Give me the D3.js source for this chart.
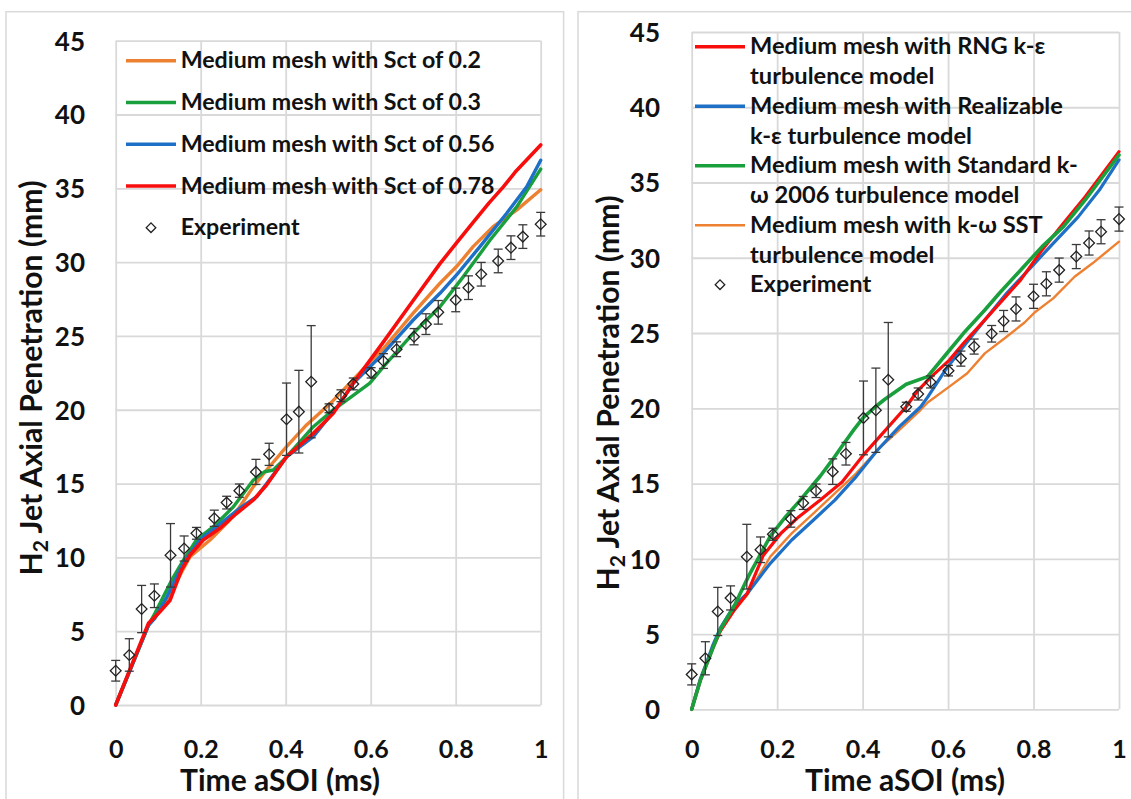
<!DOCTYPE html>
<html><head><meta charset="utf-8">
<script src="https://cdn.jsdelivr.net/npm/d3@7"></script>
<style>
body{margin:0;background:#fff}
svg{display:block}
text{font-family:Lato,'Open Sans',sans-serif;font-weight:bold;fill:#111}
</style>
</head><body>
<svg id="c" width="1131" height="799"></svg>
<script>
// ---------------- DATA ----------------
const xTicks = [0, 0.2, 0.4, 0.6, 0.8, 1];
const yTicks = [0, 5, 10, 15, 20, 25, 30, 35, 40, 45];

// Experiment (same on both panels)
const expT = [0, 0.032, 0.061, 0.091, 0.129, 0.161, 0.19, 0.232, 0.261, 0.291, 0.33, 0.361, 0.402, 0.431, 0.46, 0.502, 0.53, 0.559, 0.601, 0.63, 0.661, 0.702, 0.73, 0.759, 0.8, 0.83, 0.86, 0.9, 0.93, 0.958, 1.0];
const expV = [2.32, 3.39, 6.5, 7.4, 10.14, 10.6, 11.63, 12.65, 13.71, 14.52, 15.79, 16.98, 19.36, 19.87, 21.9, 20.1, 20.95, 21.75, 22.5, 23.3, 24.1, 24.95, 25.8, 26.6, 27.44, 28.27, 29.18, 30.08, 30.98, 31.73, 32.57];
const expE = [0.7, 1.1, 1.6, 0.8, 2.15, 0.85, 0.4, 0.55, 0.43, 0.45, 0.85, 0.75, 2.45, 2.8, 3.8, 0.3, 0.4, 0.4, 0.35, 0.5, 0.5, 0.55, 0.7, 0.8, 0.8, 0.8, 0.8, 0.8, 0.8, 0.8, 0.8];

// Left panel: Schmidt number series
const sct02T = [0, 0.04, 0.077, 0.1, 0.13, 0.155, 0.175, 0.222, 0.265, 0.292, 0.324, 0.355, 0.402, 0.449, 0.504, 0.551, 0.6, 0.63, 0.7, 0.763, 0.802, 0.841, 0.888, 0.944, 1.0];
const sct02V = [0, 2.8, 5.4, 6.2, 7.6, 9.0, 10.05, 11.18, 12.42, 13.43, 14.79, 15.92, 17.5, 18.97, 20.4, 21.8, 23.3, 24.15, 26.54, 28.57, 29.7, 31.05, 32.4, 33.54, 34.9];
const sct03T = [0, 0.04, 0.077, 0.092, 0.132, 0.159, 0.19, 0.23, 0.277, 0.324, 0.35, 0.371, 0.402, 0.465, 0.512, 0.551, 0.598, 0.63, 0.7, 0.763, 0.818, 0.881, 0.944, 1.0];
const sct03V = [0, 2.8, 5.4, 6.2, 8.47, 9.8, 11.18, 12.08, 13.43, 15.24, 15.8, 15.92, 16.8, 18.85, 20.0, 20.8, 21.8, 22.92, 25.18, 26.98, 29.02, 31.5, 33.76, 36.3];
const sct056T = [0, 0.04, 0.077, 0.092, 0.12, 0.159, 0.198, 0.238, 0.292, 0.332, 0.402, 0.465, 0.528, 0.559, 0.63, 0.7, 0.763, 0.802, 0.857, 0.92, 0.967, 1.0];
const sct056V = [0, 2.8, 5.4, 5.87, 7.3, 9.6, 11.18, 12.08, 13.33, 14.11, 16.8, 18.18, 20.44, 21.8, 23.83, 26.08, 27.89, 29.13, 31.05, 33.31, 35.1, 36.9];
const sct078T = [0, 0.077, 0.104, 0.128, 0.155, 0.175, 0.206, 0.245, 0.285, 0.324, 0.355, 0.402, 0.465, 0.512, 0.559, 0.63, 0.7, 0.763, 0.802, 0.841, 0.878, 0.912, 0.94, 1.0];
const sct078V = [0, 5.53, 6.32, 7.1, 9.15, 10.16, 11.18, 11.97, 12.99, 13.89, 14.9, 16.82, 18.4, 19.76, 21.8, 24.6, 27.4, 29.9, 31.3, 32.7, 34.0, 35.1, 36.1, 37.94];

// Right panel: turbulence model series
const rngT = [0, 0.02, 0.035, 0.05, 0.067, 0.1, 0.13, 0.167, 0.209, 0.251, 0.301, 0.352, 0.402, 0.452, 0.502, 0.527, 0.561, 0.603, 0.636, 0.686, 0.728, 0.77, 0.82, 0.87, 0.921, 1.0];
const rngV = [0, 1.9, 3.0, 4.1, 5.2, 6.6, 7.7, 10.2, 11.7, 12.8, 13.9, 15.1, 16.9, 18.5, 20.1, 21.1, 22.1, 23.2, 24.32, 25.87, 27.2, 28.53, 30.52, 32.3, 34.06, 37.05];
const realT = [0, 0.02, 0.035, 0.05, 0.067, 0.1, 0.13, 0.184, 0.234, 0.285, 0.335, 0.385, 0.435, 0.486, 0.536, 0.553, 0.594, 0.636, 0.686, 0.737, 0.795, 0.846, 0.904, 0.954, 1.0];
const realV = [0, 2.0, 3.1, 4.3, 5.4, 6.9, 7.7, 9.7, 11.25, 12.58, 13.9, 15.46, 17.23, 18.78, 20.1, 20.77, 22.55, 24.1, 25.87, 27.64, 29.4, 30.96, 32.7, 34.5, 36.5];
const std06T = [0, 0.02, 0.035, 0.05, 0.067, 0.1, 0.134, 0.184, 0.22, 0.251, 0.301, 0.33, 0.352, 0.38, 0.402, 0.43, 0.452, 0.502, 0.552, 0.594, 0.636, 0.686, 0.72, 0.77, 0.82, 0.87, 0.921, 1.0];
const std06V = [0, 1.9, 3.0, 4.1, 5.3, 6.9, 8.9, 11.5, 12.8, 13.8, 15.5, 16.6, 17.5, 18.6, 19.4, 20.1, 20.6, 21.6, 22.1, 23.54, 24.98, 26.53, 27.64, 29.19, 30.74, 32.07, 33.84, 36.83];
const sstT = [0, 0.02, 0.035, 0.05, 0.067, 0.1, 0.13, 0.184, 0.234, 0.285, 0.335, 0.385, 0.435, 0.486, 0.536, 0.553, 0.603, 0.645, 0.686, 0.737, 0.779, 0.804, 0.846, 0.896, 0.938, 1.0];
const sstV = [0, 2.0, 3.1, 4.2, 5.2, 6.6, 7.6, 10.14, 11.69, 13.02, 14.35, 15.68, 17.23, 18.56, 19.9, 20.4, 21.44, 22.33, 23.65, 24.75, 25.7, 26.4, 27.3, 28.74, 29.63, 31.07];

const leftLabels = ["Medium mesh with Sct of 0.2", "Medium mesh with Sct of 0.3", "Medium mesh with Sct of 0.56", "Medium mesh with Sct of 0.78"];
const rightLabels = [
  ["Medium mesh with RNG k-\u03b5", "turbulence model"],
  ["Medium mesh with Realizable", "k-\u03b5 turbulence model"],
  ["Medium mesh with Standard k-", "\u03c9 2006 turbulence model"],
  ["Medium mesh with k-\u03c9 SST", "turbulence model"]
];
const expLabel = "Experiment";
const xTitle = "Time aSOI (ms)";

// ---------------- DRAW ----------------
const svg = d3.select("#c");
const GRID = "#d9d9d9";
const C = {orange: "#ee8131", green: "#1a9f3d", blue: "#1e6fc6", red: "#f80d0d"};
const zip = (a, b) => a.map((t, i) => [t, b[i]]);

function fit(sel, target) {
  const w = sel.node().getComputedTextLength();
  const fs = parseFloat(sel.attr("font-size"));
  sel.attr("font-size", fs * target / w);
  return fs * target / w;
}

function panel(cfg) {
  const x = d3.scaleLinear().domain([0, 1]).range([cfg.x0, cfg.x1]);
  const y = d3.scaleLinear().domain([0, 45]).range([cfg.y0, cfg.y1]);
  const g = svg.append("g");

  g.append("rect").attr("x", cfg.fx).attr("y", 11.7).attr("width", cfg.fw).attr("height", 820)
    .attr("fill", "none").attr("stroke", GRID).attr("stroke-width", 1.5);

  const ya = g.append("g").attr("transform", `translate(${cfg.x0},0)`)
    .call(d3.axisLeft(y).tickValues(yTicks).tickSize(-(cfg.x1 - cfg.x0)).tickPadding(cfg.x0 - cfg.tickRight).tickFormat(d3.format("d")));
  ya.select(".domain").remove();
  ya.selectAll("line").attr("stroke", GRID).attr("stroke-width", 1.8);
  ya.selectAll("text").attr("font-size", 26).attr("dy", "0.36em").attr("fill", "#111")
    .style("font-family", "Lato, sans-serif").style("font-weight", "bold");

  const xa = g.append("g").attr("transform", `translate(0,${cfg.y0})`)
    .call(d3.axisBottom(x).tickValues(xTicks).tickSize(-(cfg.y0 - cfg.y1)).tickFormat(d => String(+d.toFixed(1))));
  xa.select(".domain").remove();
  xa.selectAll("line").attr("stroke", GRID).attr("stroke-width", 1.8);
  xa.selectAll("text").attr("font-size", 25).attr("y", 758 - cfg.y0).attr("dy", 0).attr("fill", "#111")
    .style("font-family", "Lato, sans-serif").style("font-weight", "bold");

  // axis titles
  const xt = g.append("text").attr("x", cfg.xTitleCX).attr("y", 791).attr("text-anchor", "middle")
    .attr("font-size", 26).text(xTitle);
  fit(xt, 200);
  const yt = g.append("text").attr("transform", `translate(${cfg.yTitleX},${cfg.yTitleCY}) rotate(-90)`)
    .attr("text-anchor", "middle").attr("font-size", 26);
  yt.append("tspan").text("H");
  yt.append("tspan").attr("font-size", "0.7em").attr("dy", "0.3em").text("2");
  yt.append("tspan").attr("dy", "-0.21em").text(" Jet Axial Penetration (mm)");
  fit(yt, 395);

  // series
  const line = d3.line().x(d => x(d[0])).y(d => y(d[1]));
  cfg.series.forEach(s => {
    g.append("path").datum(zip(s.t, s.v)).attr("d", line).attr("fill", "none")
      .attr("stroke", s.color).attr("stroke-width", s.w).attr("stroke-linejoin", "round").attr("stroke-linecap", "round");
  });

  // experiment with error bars
  const exp = zip(expT, expV).map((d, i) => ({t: d[0], v: d[1], e: expE[i]}));
  const eb = g.append("g").attr("stroke", "#3a3a3a").attr("stroke-width", 1.3);
  exp.forEach(d => {
    const cx = x(d.t);
    eb.append("line").attr("x1", cx).attr("x2", cx).attr("y1", y(d.v - d.e)).attr("y2", y(d.v + d.e));
    [d.v - d.e, d.v + d.e].forEach(vv => eb.append("line").attr("x1", cx - 4.5).attr("x2", cx + 4.5).attr("y1", y(vv)).attr("y2", y(vv)));
  });
  const sym = d3.symbol(d3.symbolSquare, 58);
  g.append("g").selectAll("path").data(exp).join("path")
    .attr("d", sym).attr("transform", d => `translate(${x(d.t)},${y(d.v)}) rotate(45)`)
    .attr("fill", "none").attr("stroke", "#222").attr("stroke-width", 1.3);

  return g;
}

// Left panel
const gl = panel({
  x0: 115.7, x1: 540.7, y0: 705, y1: 40.7, tickRight: 85, fx: 6, fw: 557.6,
  xTitleCX: 280, yTitleX: 42, yTitleCY: 378,
  series: [
    {t: sct02T, v: sct02V, color: C.orange, w: 3.4},
    {t: sct03T, v: sct03V, color: C.green, w: 3.4},
    {t: sct056T, v: sct056V, color: C.blue, w: 3.4},
    {t: sct078T, v: sct078V, color: C.red, w: 3.6}
  ]
});
// Right panel
const gr = panel({
  x0: 691.7, x1: 1119, y0: 709.3, y1: 32, tickRight: 660, fx: 578, fw: 600,
  xTitleCX: 905, yTitleX: 619, yTitleCY: 393,
  series: [
    {t: sstT, v: sstV, color: C.orange, w: 2.4},
    {t: realT, v: realV, color: C.blue, w: 3.2},
    {t: rngT, v: rngV, color: C.red, w: 3.2},
    {t: std06T, v: std06V, color: C.green, w: 3.6}
  ]
});

// Left legend
const lcol = [C.orange, C.green, C.blue, C.red];
const lleg = gl.append("g");
let lfs = 21;
leftLabels.forEach((lab, i) => {
  const yy = 60.7 + i * 41.75;
  lleg.append("line").attr("x1", 126).attr("x2", 176).attr("y1", yy).attr("y2", yy).attr("stroke", lcol[i]).attr("stroke-width", 3.4);
  const t = lleg.append("text").attr("class", "ll").attr("x", 180.7).attr("y", yy + 7.6).attr("font-size", 21).text(lab);
  if (i === 2) lfs = fit(t, 314);
});
lleg.selectAll("text.ll").attr("font-size", lfs);
{
  const yy = 60.7 + 4 * 41.75;
  lleg.append("path").attr("d", d3.symbol(d3.symbolSquare, 46)).attr("transform", `translate(151,${yy}) rotate(45)`)
    .attr("fill", "none").attr("stroke", "#222").attr("stroke-width", 1.3);
  lleg.append("text").attr("x", 180.7).attr("y", yy + 7.6).attr("font-size", lfs).text(expLabel);
}

// Right legend
const rcol = [C.red, C.blue, C.green, C.orange];
const rw = [3.4, 3.4, 3.6, 2.4];
const rleg = gr.append("g");
let rfs = 21;
rightLabels.forEach((lab, i) => {
  const yy = 46.7 + i * 59.5;
  rleg.append("line").attr("x1", 695).attr("x2", 745).attr("y1", yy).attr("y2", yy).attr("stroke", rcol[i]).attr("stroke-width", rw[i]);
  lab.forEach((s, j) => {
    const t = rleg.append("text").attr("class", "rl").attr("x", 750).attr("y", yy + 7.6 + j * 30).attr("font-size", 21).text(s);
    if (i === 2 && j === 0) rfs = fit(t, 328);
  });
});
rleg.selectAll("text.rl").attr("font-size", rfs);
{
  const yy = 46.7 + 4 * 59.5;
  rleg.append("path").attr("d", d3.symbol(d3.symbolSquare, 46)).attr("transform", `translate(720,${yy}) rotate(45)`)
    .attr("fill", "none").attr("stroke", "#222").attr("stroke-width", 1.3);
  rleg.append("text").attr("x", 750).attr("y", yy + 7.6).attr("font-size", rfs).text(expLabel);
}
</script>
</body></html>
